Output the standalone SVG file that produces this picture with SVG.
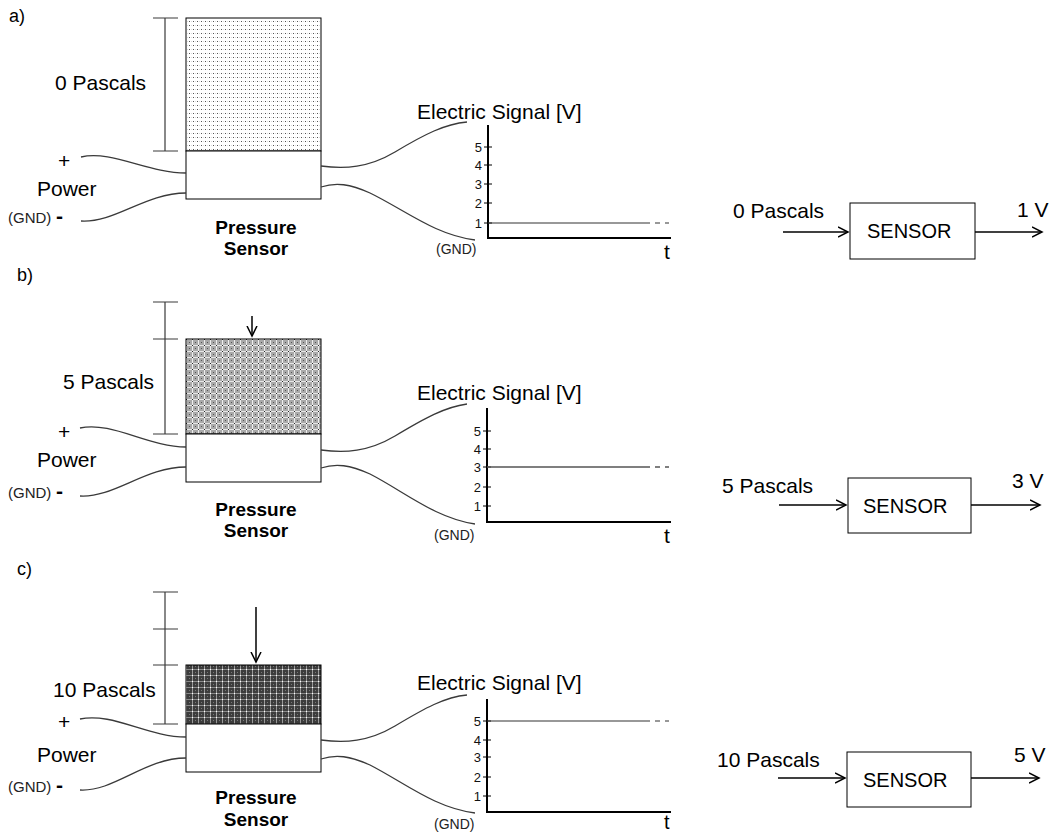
<svg xmlns="http://www.w3.org/2000/svg" width="1050" height="834" viewBox="0 0 1050 834">
<defs>
<style>
text{font-family:"Liberation Sans",Arial,sans-serif;fill:#000}
.lbl{font-size:21px}
.big{font-size:21px}
.sen{font-size:20px}
.ps{font-size:19px;font-weight:bold}
.small{font-size:15px;fill:#222}
.gnd{font-size:14px;fill:#222}
.tick{font-size:13px;fill:#111}
.t{font-size:21px}
.wire{fill:none;stroke:#3a3a3a;stroke-width:1.3}
.dim{fill:none;stroke:#3a3a3a;stroke-width:1.2}
.box{fill:#fff;stroke:#000;stroke-width:1}
.axis{fill:none;stroke:#000;stroke-width:2}
.tk{fill:none;stroke:#000;stroke-width:1}
.sig{fill:none;stroke:#333;stroke-width:1.2}
.arr{fill:none;stroke:#000;stroke-width:1.5}
</style>
<pattern id="patA" width="4" height="4" patternUnits="userSpaceOnUse">
<rect width="4" height="4" fill="#fff"/>
<rect x="1" y="1" width="1" height="1" fill="#555"/>
<rect x="3" y="1" width="1" height="1" fill="#ddd"/>
</pattern>
<pattern id="patB" width="6" height="6" patternUnits="userSpaceOnUse">
<rect width="6" height="6" fill="#a9a9a9"/>
<rect x="0" y="0" width="1" height="6" fill="#eee"/>
<rect x="0" y="3" width="6" height="1" fill="#e6e6e6"/>
<rect x="0" y="3" width="1" height="1" fill="#222"/>
<rect x="3" y="0" width="1" height="1" fill="#555"/>
</pattern>
<pattern id="patC" width="6" height="6" patternUnits="userSpaceOnUse">
<rect width="6" height="6" fill="#3c3c3c"/>
<rect x="0" y="0" width="1" height="6" fill="#9a9a9a"/>
<rect x="0" y="3" width="6" height="1" fill="#8a8a8a"/>
<rect x="0" y="3" width="1" height="1" fill="#fff"/>
<rect x="3" y="0" width="1" height="1" fill="#777"/>
</pattern>
<marker id="ah" markerUnits="userSpaceOnUse" markerWidth="14" markerHeight="14" refX="10" refY="6" orient="auto">
<path d="M0,1 L10,6 L0,11" fill="none" stroke="#000" stroke-width="1.5"/>
</marker>
<marker id="ahd" markerUnits="userSpaceOnUse" markerWidth="14" markerHeight="14" refX="10" refY="6" orient="auto">
<path d="M0,1 L10,6 L0,11" fill="none" stroke="#000" stroke-width="1.5"/>
</marker>
</defs>
<rect width="1050" height="834" fill="#fff"/>

<!-- Panel a -->
<g id="panel-a">
<text x="9" y="22" class="lbl" style="font-size:18px">a)</text>
<g id="a-dim">
<path class="dim" d="M153,18 H178 M165,18 V151 M153,151 H178"/>
<text x="55" y="90" class="lbl">0 Pascals</text>
</g>
<g id="a-sensor">
<rect x="186" y="18" width="135" height="133" fill="url(#patA)" stroke="#000" stroke-width="1"/>
<rect x="186" y="151" width="135" height="48" class="box"/>
<text x="256" y="234" class="ps" text-anchor="middle">Pressure</text>
<text x="256" y="255" class="ps" text-anchor="middle">Sensor</text>
</g>
<g id="a-power">
<text x="58" y="168" class="lbl">+</text>
<text x="37" y="196" class="lbl">Power</text>
<text x="8" y="223" class="small">(GND)</text>
<text x="56" y="223" class="lbl" style="font-weight:bold">-</text>
</g>
<g id="a-graph">
<text x="417" y="119" class="big">Electric Signal [V]</text>
<path class="axis" d="M488,125 V238 H671"/>
<path class="tk" d="M484,147 H492 M484,165 H492 M484,184 H492 M484,203 H492 M484,223 H492"/>
<text x="482" y="152" class="tick" text-anchor="end">5</text>
<text x="482" y="170" class="tick" text-anchor="end">4</text>
<text x="482" y="189" class="tick" text-anchor="end">3</text>
<text x="482" y="208" class="tick" text-anchor="end">2</text>
<text x="482" y="228" class="tick" text-anchor="end">1</text>
<path class="sig" d="M488,223 H650 M655,223 H660 M665,223 H669"/>
<text x="436" y="254" class="gnd">(GND)</text>
<text x="664" y="259" class="t">t</text>
</g>
<g id="a-block">
<rect x="850" y="203" width="125" height="56" class="box"/>
<text x="867" y="238" class="sen">SENSOR</text>
<text x="733" y="218" class="big">0 Pascals</text>
<text x="1017" y="217" class="big">1 V</text>
</g>
</g>

<!-- Panel b -->
<g id="panel-b">
<text x="17" y="281" class="lbl" style="font-size:18px">b)</text>
<g id="b-dim">
<path class="dim" d="M153,302 H178 M165,302 V434 M153,339 H178 M153,434 H178"/>
<text x="63" y="389" class="lbl">5 Pascals</text>
</g>
<g id="b-sensor">
<rect x="186" y="339" width="135" height="95" fill="url(#patB)" stroke="#000" stroke-width="1"/>
<rect x="186" y="434" width="135" height="48" class="box"/>
<text x="256" y="516" class="ps" text-anchor="middle">Pressure</text>
<text x="256" y="537" class="ps" text-anchor="middle">Sensor</text>
</g>
<g id="b-power">
<text x="58" y="439" class="lbl">+</text>
<text x="37" y="467" class="lbl">Power</text>
<text x="8" y="498" class="small">(GND)</text>
<text x="56" y="498" class="lbl" style="font-weight:bold">-</text>
</g>
<g id="b-graph">
<text x="417" y="400" class="big">Electric Signal [V]</text>
<path class="axis" d="M487,408 V522 H671"/>
<path class="tk" d="M483,431 H491 M483,449 H491 M483,467 H491 M483,487 H491 M483,506 H491"/>
<text x="481" y="436" class="tick" text-anchor="end">5</text>
<text x="481" y="454" class="tick" text-anchor="end">4</text>
<text x="481" y="472" class="tick" text-anchor="end">3</text>
<text x="481" y="492" class="tick" text-anchor="end">2</text>
<text x="481" y="511" class="tick" text-anchor="end">1</text>
<path class="sig" d="M487,467 H650 M655,467 H660 M665,467 H669" style="stroke:#555;stroke-width:1.5"/>
<text x="434" y="540" class="gnd">(GND)</text>
<text x="664" y="543" class="t">t</text>
</g>
<g id="b-block">
<rect x="848" y="478" width="123" height="55" class="box"/>
<text x="863" y="513" class="sen">SENSOR</text>
<text x="722" y="493" class="big">5 Pascals</text>
<text x="1012" y="488" class="big">3 V</text>
</g>
</g>

<!-- Panel c -->
<g id="panel-c">
<text x="17" y="575" class="lbl" style="font-size:18px">c)</text>
<g id="c-dim">
<path class="dim" d="M153,592 H178 M165,592 V724 M153,629 H178 M153,665 H178 M153,724 H178"/>
<text x="53" y="697" class="lbl">10 Pascals</text>
</g>
<g id="c-sensor">
<rect x="186" y="665" width="135" height="59" fill="url(#patC)" stroke="#000" stroke-width="1"/>
<rect x="186" y="724" width="135" height="48" class="box"/>
<text x="256" y="804" class="ps" text-anchor="middle">Pressure</text>
<text x="256" y="826" class="ps" text-anchor="middle">Sensor</text>
</g>
<g id="c-power">
<text x="58" y="729" class="lbl">+</text>
<text x="37" y="762" class="lbl">Power</text>
<text x="8" y="792" class="small">(GND)</text>
<text x="56" y="792" class="lbl" style="font-weight:bold">-</text>
</g>
<g id="c-graph">
<text x="417" y="690" class="big">Electric Signal [V]</text>
<path class="axis" d="M487,699 V812 H671"/>
<path class="tk" d="M483,721 H491 M483,740 H491 M483,757 H491 M483,777 H491 M483,796 H491"/>
<text x="481" y="726" class="tick" text-anchor="end">5</text>
<text x="481" y="745" class="tick" text-anchor="end">4</text>
<text x="481" y="762" class="tick" text-anchor="end">3</text>
<text x="481" y="782" class="tick" text-anchor="end">2</text>
<text x="481" y="801" class="tick" text-anchor="end">1</text>
<path class="sig" d="M487,721 H650 M655,721 H660 M665,721 H669"/>
<text x="434" y="829" class="gnd">(GND)</text>
<text x="664" y="829" class="t" style="font-size:20px">t</text>
</g>
<g id="c-block">
<rect x="847" y="752" width="124" height="55" class="box"/>
<text x="863" y="787" class="sen">SENSOR</text>
<text x="717" y="767" class="big">10 Pascals</text>
<text x="1014" y="762" class="big">5 V</text>
</g>
</g>

<!-- Connectors -->
<g id="connectors">
<path class="wire" d="M81,157 C112,150 148,173 186,173"/>
<path class="wire" d="M81,221 C115,223 145,193 186,193"/>
<path class="wire" d="M321,166 C345,169 368,168 395,152 C425,134 445,124 467,122"/>
<path class="wire" d="M321,187 C336,182 350,184 370,193 C405,210 435,235 475,240"/>

<path class="wire" d="M80,428 C112,421 148,447 186,447"/>
<path class="wire" d="M80,496 C114,498 145,467 186,467"/>
<path class="wire" d="M321,450 C345,453 368,452 395,436 C425,418 445,407 467,404"/>
<path class="wire" d="M321,468 C336,463 350,465 370,474 C405,492 435,518 475,524"/>

<path class="wire" d="M80,719 C112,712 148,737 186,737"/>
<path class="wire" d="M80,790 C114,792 145,758 186,758"/>
<path class="wire" d="M321,740 C345,743 368,742 395,726 C425,708 445,697 467,695"/>
<path class="wire" d="M321,759 C336,754 350,756 370,765 C405,783 435,808 475,813"/>

<path class="arr" d="M252,316 V336" marker-end="url(#ahd)"/>
<path class="arr" d="M256,607 V662" marker-end="url(#ahd)"/>

<path class="arr" d="M783,232 H848" marker-end="url(#ah)"/>
<path class="arr" d="M975,232 H1042" marker-end="url(#ah)"/>
<path class="arr" d="M779,505 H846" marker-end="url(#ah)"/>
<path class="arr" d="M971,505 H1040" marker-end="url(#ah)"/>
<path class="arr" d="M778,778 H845" marker-end="url(#ah)"/>
<path class="arr" d="M971,778 H1039" marker-end="url(#ah)"/>
</g>
</svg>
